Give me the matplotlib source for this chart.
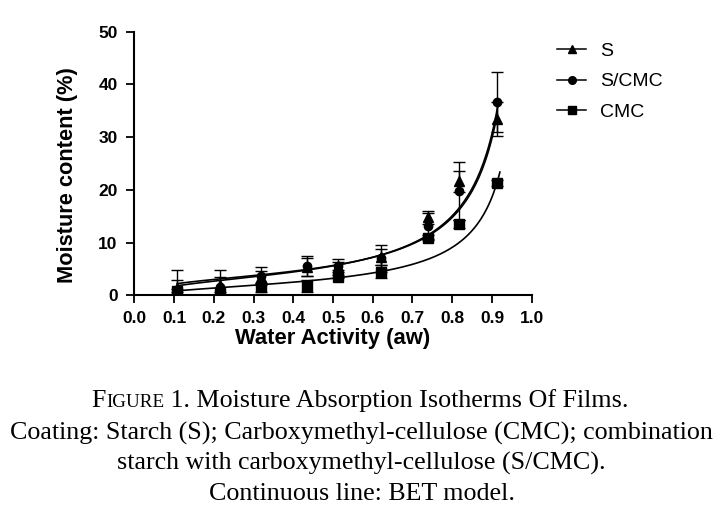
import numpy as np
import matplotlib
matplotlib.use("Agg")
import matplotlib.pyplot as plt
from matplotlib.lines import Line2D

# water activity of the salt solutions
aw = [0.108, 0.216, 0.318, 0.435, 0.513, 0.622, 0.740, 0.818, 0.913]

# measured moisture content (%) and error
s_val = [1.3, 2.0, 3.5, 5.4, 5.6, 7.2, 14.8, 21.6, 33.5]
s_err = [3.5, 2.8, 1.2, 1.7, 0.8, 1.5, 1.2, 2.0, 3.2]
scmc_val = [1.1, 1.6, 3.7, 5.6, 5.6, 7.0, 13.1, 19.7, 36.6]
scmc_err = [1.8, 1.9, 1.7, 1.9, 1.2, 2.6, 2.5, 5.5, 5.7]
cmc_val = [0.9, 0.4, 1.5, 1.8, 3.5, 4.5, 10.9, 13.5, 21.3]
cmc_err = [0.3, 0.3, 0.8, 1.1, 0.3, 1.3, 0.5, 0.8, 0.5]

# BET parameters (monolayer m0, constant C) and curve end
bet_s = (3.0, 16.0, 0.912)
bet_scmc = (3.1, 9.0, 0.915)
bet_cmc = (1.9, 5.5, 0.92)

x_ticks = [0.0, 0.1, 0.2, 0.3, 0.4, 0.5, 0.6, 0.7, 0.8, 0.9, 1.0]
y_ticks = [0, 10, 20, 30, 40, 50]


def bet(a, m0, c):
    return m0 * c * a / ((1 - a) * (1 - a + c * a))


W, H = 721, 518
fig = plt.figure(figsize=(W / 100, H / 100), dpi=100)
ax = fig.add_axes([134.3 / W, 1 - 295.3 / H, 397.4 / W, 263.6 / H])

sans = ['Liberation Sans', 'DejaVu Sans']
serif = ['Liberation Serif', 'DejaVu Serif']

series = [
    (s_val, s_err, bet_s, '^', 6.5, 'S'),
    (scmc_val, scmc_err, bet_scmc, 'o', 6.0, 'S/CMC'),
    (cmc_val, cmc_err, bet_cmc, 's', 6.5, 'CMC'),
]
handles = []
for val, err, (m0, c, end), mk, ms, lab in series:
    ax.errorbar(aw, val, yerr=err, fmt=mk, color='black', markersize=ms,
                ecolor='black', elinewidth=1.0, capsize=4, capthick=1.0, zorder=3)
    a = np.linspace(aw[0], end, 200)
    ax.plot(a, bet(a, m0, c), color='black', lw=1.2, zorder=2)
    handles.append(Line2D([], [], color='black', lw=1.1, marker=mk, markersize=ms - 0.5, label=lab))

ax.set_xlim(0, 1.0)
ax.set_ylim(0, 50)
ax.set_xticks(x_ticks)
ax.set_xticklabels([f'{t:.1f}' for t in x_ticks])
ax.set_yticks(y_ticks)
ax.spines['top'].set_visible(False)
ax.spines['right'].set_visible(False)
for sp in ['left', 'bottom']:
    ax.spines[sp].set_linewidth(1.5)
ax.tick_params(direction='out', length=6, width=1.3)
ax.tick_params(axis='x', pad=5)
ax.tick_params(axis='y', pad=6)
for lbl in ax.get_xticklabels() + ax.get_yticklabels():
    lbl.set_family(sans)
    lbl.set_fontweight('bold')
    lbl.set_fontsize(12.5)

ax.set_xlabel('Water Activity (aw)', family=sans, fontweight='bold', fontsize=15.8, labelpad=2)
ax.set_ylabel('Moisture content (%)', family=sans, fontweight='bold', fontsize=15.7)
ax.yaxis.set_label_coords(-0.142, 0.456)

leg = fig.legend(handles=handles, loc='upper left', bbox_to_anchor=(557 / W, 1 - 42 / H),
                 frameon=False, prop={'family': sans, 'size': 14},
                 borderpad=0, borderaxespad=0,
                 handlelength=1.5, labelspacing=0.68, handletextpad=0.72)

# caption with small-caps "Figure"
t1 = fig.text(91.7 / W, 1 - 406.7 / H, 'F', family=serif, fontsize=18.7, va='baseline', ha='left')
t2 = fig.text(0, 0, 'IGURE', fontsize=13.8, family=serif, va='baseline', ha='left',
              transform=fig.transFigure)
fig.canvas.draw()
r = fig.canvas.get_renderer()
bb1 = t1.get_window_extent(r)
t2.set_position((bb1.x1 / W, 1 - 406.7 / H))
fig.canvas.draw()
bb2 = t2.get_window_extent(r)
fig.text(bb2.x1 / W, 1 - 406.7 / H, ' 1. Moisture Absorption Isotherms Of Films.',
         family=serif, fontsize=18.7, va='baseline', ha='left')

caption = ['Coating: Starch (S); Carboxymethyl-cellulose (CMC); combination',
           'starch with carboxymethyl-cellulose (S/CMC).',
           'Continuous line: BET model.']
baselines = [440, 470, 500]
for line, yb in zip(caption, baselines):
    fig.text(0.5 * (11.7 + 711.7) / W, 1 - yb / H, line, family=serif, fontsize=18.7,
             ha='center', va='baseline')

fig.savefig('out.png', dpi=100)
